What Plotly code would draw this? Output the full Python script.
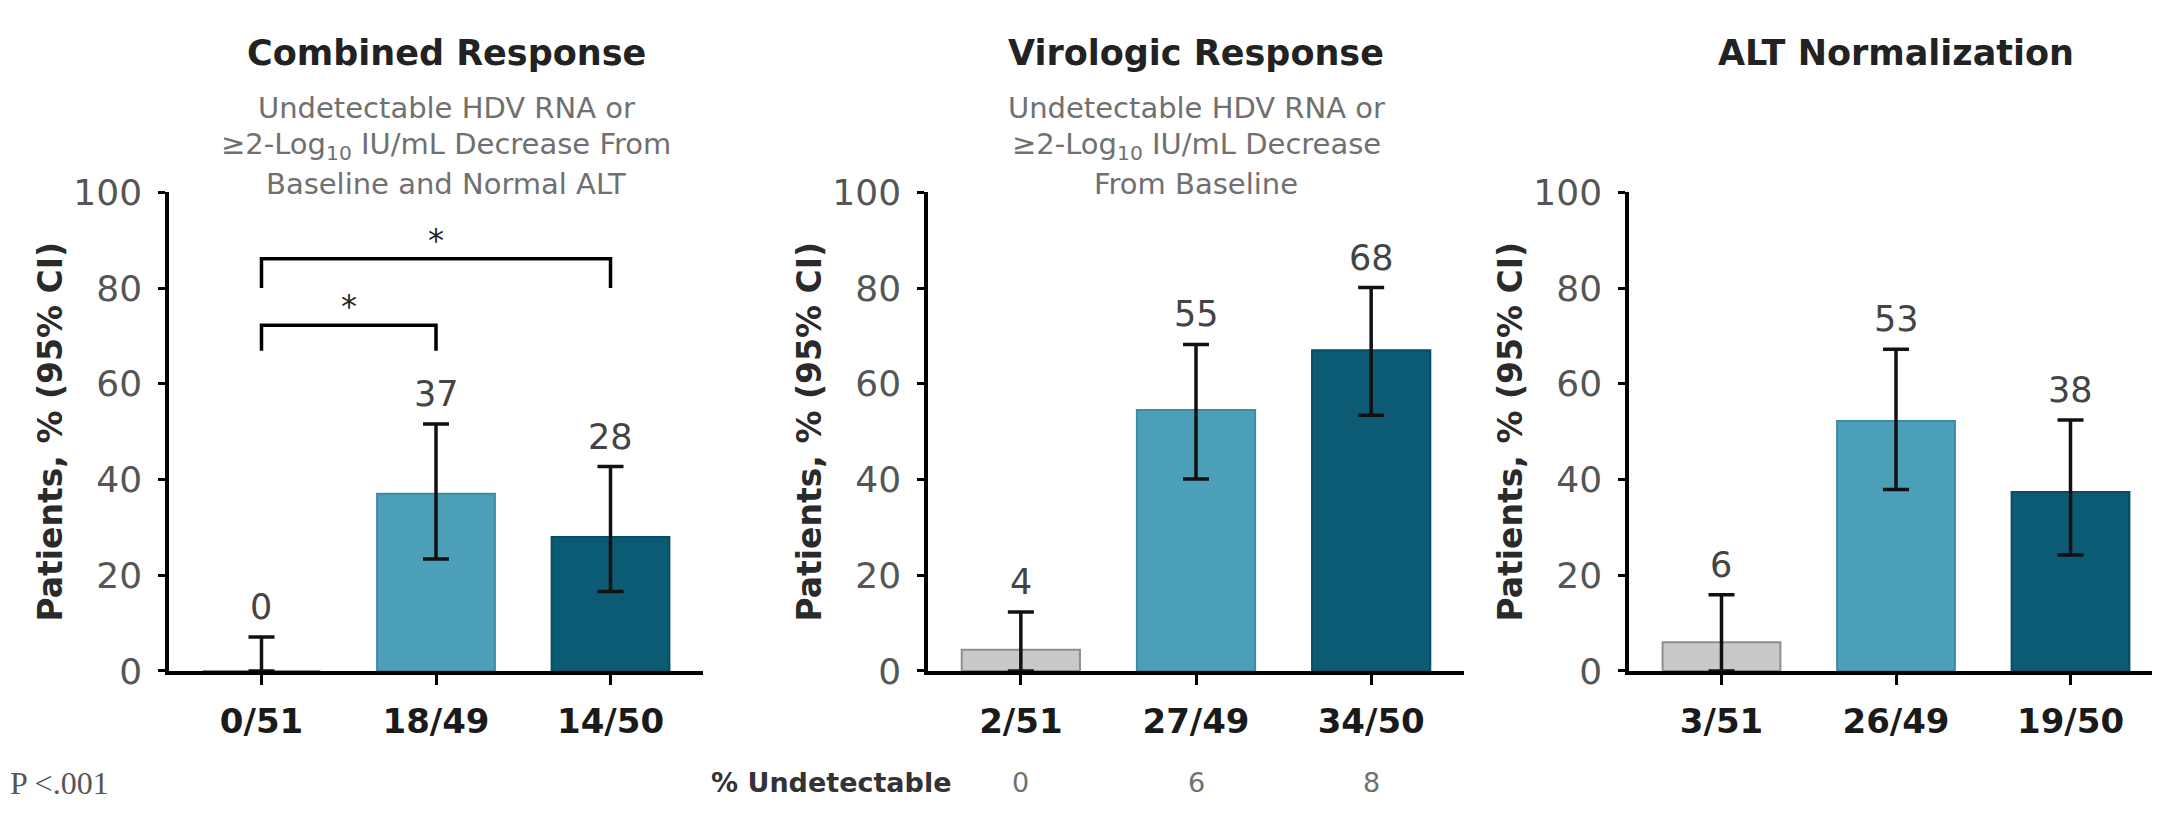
import plotly.graph_objects as go

# ---- data ----
panel_titles = ["Combined Response", "Virologic Response", "ALT Normalization"]
panel_subtitles = [
    ["Undetectable HDV RNA or", "≥2-Log<sub>10</sub> IU/mL Decrease From", "Baseline and Normal ALT"],
    ["Undetectable HDV RNA or", "≥2-Log<sub>10</sub> IU/mL Decrease", "From Baseline"],
    [],
]

cats_combined = ["0/51", "18/49", "14/50"]
cats_virologic = ["2/51", "27/49", "34/50"]
cats_alt = ["3/51", "26/49", "19/50"]

pct_combined = [0, 37, 28]
pct_virologic = [4.4, 54.5, 67]
pct_alt = [6, 52.2, 37.4]

lo_combined = [0, 23.4, 16.6]
hi_combined = [7.1, 51.6, 42.7]
lo_virologic = [0, 40.1, 53.4]
hi_virologic = [12.3, 68.2, 80.1]
lo_alt = [0, 37.9, 24.2]
hi_alt = [15.9, 67.2, 52.4]

labels_combined = ["0", "37", "28"]
labels_virologic = ["4", "55", "68"]
labels_alt = ["6", "53", "38"]

undetectable_pct = ["0", "6", "8"]

# significance brackets on the combined panel: (from, to, top, leg bottom)
bracket_from = [0, 0]
bracket_to = [1, 2]
bracket_top = [72.2, 86.1]
bracket_leg = [66.9, 80.0]

y_ticks = [0, 20, 40, 60, 80, 100]

# ---- styling ----
FONT = "DejaVu Sans"
bar_colors = ["#C9C9C9", "#4B9FB9", "#0C5B75"]
bar_lines = ["#8E8E8E", "#3D8AA3", "#0A4C62"]
W, H = 2160, 814
x_domains = [(161, 695), (920, 1456), (1621, 2155)]
y_domain = (1 - 677 / H, 1 - 173 / H)
title_shift = [10, 0, 0]

panels = [
    (cats_combined, pct_combined, lo_combined, hi_combined, labels_combined),
    (cats_virologic, pct_virologic, lo_virologic, hi_virologic, labels_virologic),
    (cats_alt, pct_alt, lo_alt, hi_alt, labels_alt),
]

fig = go.Figure()
annotations = []
shapes = []

for i, (cats, pct, lo, hi, labels) in enumerate(panels):
    sfx = "" if i == 0 else str(i + 1)
    xs = list(range(len(cats)))
    fig.add_trace(go.Bar(
        x=xs, y=pct,
        width=0.675,
        marker=dict(color=bar_colors, line=dict(color=bar_lines, width=2)),
        error_y=dict(
            type="data", symmetric=False,
            array=[h - p for h, p in zip(hi, pct)],
            arrayminus=[p - l for p, l in zip(pct, lo)],
            color="#111111", thickness=3.5, width=13,
        ),
        xaxis="x" + sfx, yaxis="y" + sfx,
        showlegend=False, hoverinfo="skip",
    ))

    d0, d1 = x_domains[i]
    fig.layout["xaxis" + sfx] = dict(
        domain=[d0 / W, d1 / W], anchor="y" + sfx,
        range=[-0.53, 2.53], tickvals=xs, ticktext=cats,
        showline=True, linecolor="#000000", linewidth=3.5,
        ticks="outside", ticklen=10, tickwidth=3, tickcolor="#000000",
        tickfont=dict(family=FONT, size=34, color="#1A1A1A", weight="bold"),
        ticklabelstandoff=8,
        showgrid=False, zeroline=False, fixedrange=True,
    )
    fig.layout["yaxis" + sfx] = dict(
        domain=list(y_domain), anchor="x" + sfx,
        range=[0, 100], tickvals=y_ticks,
        showline=True, linecolor="#000000", linewidth=3.5,
        ticks="outside", ticklen=7, tickwidth=3, tickcolor="#000000",
        tickfont=dict(family=FONT, size=36, color="#555555"),
        ticklabelstandoff=9,
        showgrid=False, zeroline=False, fixedrange=True,
    )

    # value labels above each CI
    for x, h, t in zip(xs, hi, labels):
        annotations.append(dict(
            x=x, y=h, xref="x" + sfx, yref="y" + sfx, text=t, showarrow=False,
            yanchor="bottom", yshift=8,
            font=dict(family=FONT, size=35, color="#444444"),
        ))

    # y axis title
    annotations.append(dict(
        x=0, y=0.5, xref=f"x{sfx} domain", yref=f"y{sfx} domain",
        text="<b>Patients, % (95% CI)</b>", textangle=-90, showarrow=False,
        xanchor="center", yanchor="middle", xshift=-118,
        font=dict(family=FONT, size=33, color="#2A2A2A"),
    ))

    # panel title + subtitle
    cx = (d0 + d1) / 2 / W
    annotations.append(dict(
        x=cx, y=1 - 26 / H, xref="paper", yref="paper", xshift=title_shift[i],
        text=f"<b>{panel_titles[i]}</b>", showarrow=False,
        xanchor="center", yanchor="middle",
        font=dict(family=FONT, size=35, color="#222222"),
    ))
    for k, line in enumerate(panel_subtitles[i]):
        annotations.append(dict(
            x=cx, y=1 - (84 + 40 * k) / H, xref="paper", yref="paper", xshift=title_shift[i],
            text=line, showarrow=False, xanchor="center", yanchor="middle",
            font=dict(family=FONT, size=29, color="#707070"),
        ))

# significance brackets with stars
for a, b, top, leg in zip(bracket_from, bracket_to, bracket_top, bracket_leg):
    shapes.append(dict(
        type="path", xref="x", yref="y",
        path=f"M {a} {leg} L {a} {top} L {b} {top} L {b} {leg}",
        line=dict(color="#000000", width=3.5),
    ))
    annotations.append(dict(
        x=(a + b) / 2, y=top, xref="x", yref="y", text="*", showarrow=False,
        yanchor="bottom", yshift=-2,
        font=dict(family=FONT, size=32, color="#222222"),
    ))

# footnote row
annotations.append(dict(
    x=0, y=1 - 795 / H, xref="paper", yref="paper", text="P <.001",
    showarrow=False, xanchor="left", yanchor="middle",
    font=dict(family="Liberation Serif", size=32, color="#555555"),
))
annotations.append(dict(
    x=945 / W, y=1 - 795 / H, xref="paper", yref="paper",
    text="<b>% Undetectable</b>", showarrow=False, xanchor="right", yanchor="middle",
    font=dict(family=FONT, size=27, color="#333333"),
))
for x, t in enumerate(undetectable_pct):
    annotations.append(dict(
        x=x, y=1 - 795 / H, xref="x2", yref="paper", text=t, showarrow=False,
        xanchor="center", yanchor="middle",
        font=dict(family=FONT, size=27, color="#707070"),
    ))

fig.update_layout(
    width=W, height=H,
    margin=dict(l=0, r=0, t=0, b=0),
    plot_bgcolor="white", paper_bgcolor="white",
    font=dict(family=FONT),
    annotations=annotations,
    shapes=shapes,
)

fig.write_html("out.html")
